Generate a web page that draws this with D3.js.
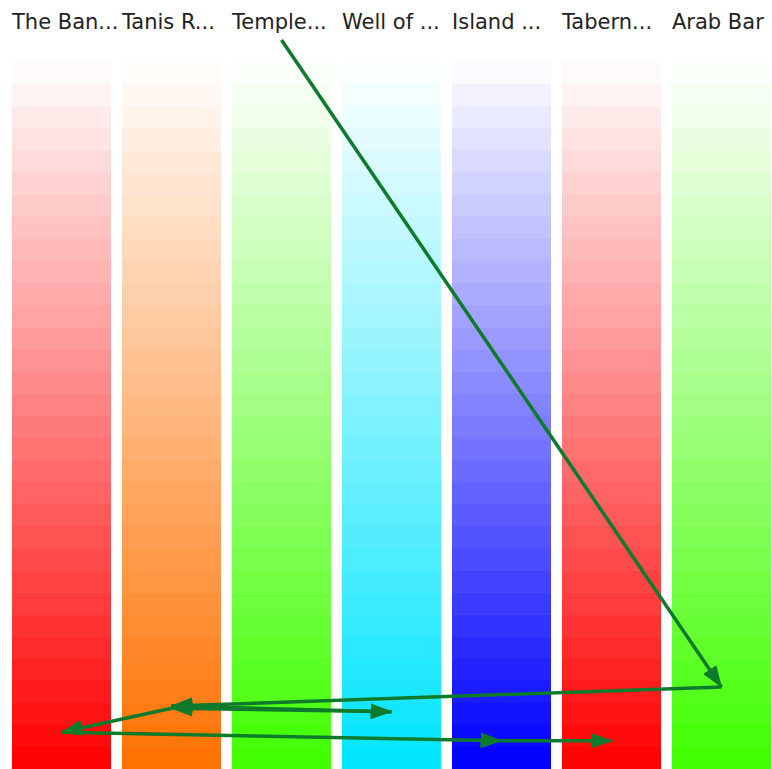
<!DOCTYPE html>
<html><head><meta charset="utf-8">
<script src="https://cdn.jsdelivr.net/npm/d3@7"></script>
<style>html,body{margin:0;padding:0;background:#fff;}svg{display:block;}</style>
</head><body>
<svg id="chart" width="772" height="769"></svg>
<script>
// Data
const categories = ["The Ban...", "Tanis R...", "Temple...", "Well of ...", "Island ...", "Tabern...", "Arab Bar"];
const colors = ["#ff0000", "#ff7000", "#40ff00", "#00e5ff", "#0000ff", "#ff0000", "#40ff00"];
const bandCount = 32;
const pathCategories = [2, 6, 1, 3, 1, 0, 4, 5];
const pathValues = [103.1, 11.6, 8.9, 8.1, 8.6, 5.2, 4.0, 4.0];

const svg = d3.select("#chart");
const x = d3.scaleBand().domain(d3.range(categories.length)).range([12, 771]).paddingInner(0.1).paddingOuter(0);
const yTop = 62, yBottom = 769;
const bandY = d3.scaleBand().domain(d3.range(bandCount)).range([yTop, yBottom]).padding(0);
const y = d3.scaleLinear().domain([0, 100]).range([yBottom, yTop]);

// columns
categories.forEach((c, i) => {
  const g = svg.append("g");
  g.selectAll("rect").data(d3.range(bandCount)).join("rect")
    .attr("x", x(i)).attr("width", x.bandwidth())
    .attr("y", d => bandY(d)).attr("height", bandY.bandwidth() + 0.5)
    .attr("fill", d => d3.interpolateRgb("#ffffff", colors[i])((d + 0.6) / bandCount));
});

// labels
svg.selectAll("text.lab").data(categories).join("text")
  .attr("class", "lab")
  .attr("x", (d, i) => x(i)).attr("y", 29)
  .attr("font-family", "DejaVu Sans, sans-serif")
  .attr("font-size", 21).attr("fill", "#222")
  .text(d => d);

// arrows
const defs = svg.append("defs");
defs.append("marker").attr("id", "arr")
  .attr("markerUnits", "userSpaceOnUse")
  .attr("viewBox", "0 0 22 16").attr("refX", 21).attr("refY", 8)
  .attr("markerWidth", 22).attr("markerHeight", 16)
  .attr("orient", "auto")
  .append("path").attr("d", "M0,0 L22,8 L0,16 Z").attr("fill", "#0d7a2c");

const pts = pathCategories.map((c, i) => [x(c) + x.bandwidth() / 2, y(pathValues[i])]);
for (let i = 0; i < pts.length - 1; i++) {
  svg.append("line")
    .attr("x1", pts[i][0]).attr("y1", pts[i][1])
    .attr("x2", pts[i + 1][0]).attr("y2", pts[i + 1][1])
    .attr("stroke", "#0d7a2c").attr("stroke-width", 3.5)
    .attr("marker-end", "url(#arr)");
}
</script>
</body></html>
